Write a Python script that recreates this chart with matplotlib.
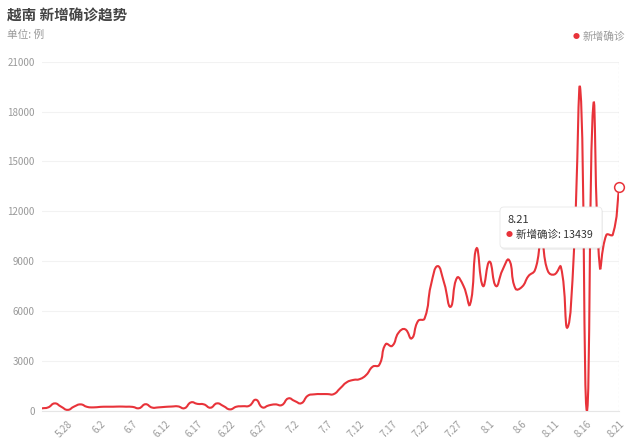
import numpy as np
import pandas as pd
import matplotlib
matplotlib.use('Agg')
import matplotlib.pyplot as plt
from matplotlib.path import Path
from matplotlib.patches import PathPatch, FancyBboxPatch
from matplotlib.transforms import IdentityTransform

plt.rcParams['font.family'] = ['Noto Sans CJK SC', 'DejaVu Sans']

# 5.24 - 8.21
dates = pd.date_range('2021-05-24', '2021-08-21')
date_labels = [f'{d.month}.{d.day}' for d in dates]
new_cases = [140, 200, 440, 240, 50, 250, 380, 230, 200, 230,
             240, 240, 250, 240, 230, 150, 390, 190, 200, 230,
             250, 260, 150, 500, 410, 380, 180, 440, 280, 80,
             240, 270, 300, 660, 200, 320, 380, 340, 740, 580,
             450, 900, 985, 1000, 1000, 1000, 1350, 1710, 1850, 1900,
             2150, 2650, 2750, 4000, 3900, 4700, 4900, 4350, 5400, 5550,
             7600, 8700, 7700, 6250, 8000, 7500, 6400, 9770, 7500, 8970,
             7500, 8460, 9070, 7350, 7450, 8100, 8460, 10100, 8400, 8200,
             8650, 5000, 9500, 19300, 0, 18400, 8650, 10570, 10600, 13439]
y_ticks = list(range(0, 21001, 3000))
label_step = 5
series_name = '新增确诊'
line_color = '#e8333a'

W, H = 641, 442
fig = plt.figure(figsize=(W / 100, H / 100), dpi=100)
ax = fig.add_axes([41.7 / W, 1 - 410.7 / H, (619.3 - 41.7) / W, (410.7 - 61.7) / H])
x = np.arange(len(new_cases))
ax.set_xlim(0, len(x) - 1)
ax.set_ylim(y_ticks[0], y_ticks[-1])


def smooth_path(ax, xs, ys, smooth=0.5):
    # bezier smoothing in screen space, like echarts smooth: true
    pts = ax.transData.transform(np.column_stack([xs, ys]))
    n = len(pts)
    cp_prev, cp_next = [], []
    for i in range(n):
        p = pts[i]
        prev = pts[i - 1] if i > 0 else p
        nxt = pts[i + 1] if i < n - 1 else p
        v = nxt - prev
        d0 = np.hypot(*(p - prev))
        d1 = np.hypot(*(nxt - p))
        r = d1 / (d0 + d1) if d0 + d1 > 0 else 0.5
        cp_next.append(p + v * smooth * r)
        cp_prev.append(p - v * smooth * (1 - r))
    verts = [pts[0]]
    codes = [Path.MOVETO]
    for i in range(1, n):
        verts += [cp_next[i - 1], cp_prev[i], pts[i]]
        codes += [Path.CURVE4] * 3
    return Path(ax.transData.inverted().transform(np.array(verts)), codes)


ax.add_patch(PathPatch(smooth_path(ax, x, new_cases), fill=False,
                       edgecolor=line_color, lw=1.5, zorder=3))

# grid / axes
ax.set_yticks(y_ticks)
ax.grid(axis='y', color='#f2f2f2', lw=0.8)
ax.set_axisbelow(True)
for s in ['top', 'right', 'left']:
    ax.spines[s].set_visible(False)
ax.spines['bottom'].set_color('#e6e6e6')
ax.spines['bottom'].set_linewidth(0.8)

tick_idx = list(range(len(x) - 1, -1, -label_step))[::-1]
ax.set_xticks(tick_idx)
ax.set_xticklabels([date_labels[i] for i in tick_idx], rotation=45,
                   ha='right', va='top', rotation_mode='anchor')
ax.tick_params(axis='x', length=0, pad=6, labelsize=7, labelcolor='#999999')
ax.tick_params(axis='y', length=0, pad=5, labelsize=7, labelcolor='#999999')

# hover marker
last = len(x) - 1
ax.axvline(last, color='#bbbbbb', lw=0.8, ls=(0, (2, 2)), zorder=2)
ax.plot(last, new_cases[last], 'o', ms=7, mfc='white', mec=line_color, mew=1.1,
        zorder=4, clip_on=False)

# titles
fig.text(7 / W, 1 - 16 / H, '越南 新增确诊趋势', fontsize=10.5, weight='bold',
         color='#444444', va='center', ha='left')
fig.text(7 / W, 1 - 35 / H, '单位: 例', fontsize=7.7, color='#999999',
         va='center', ha='left')

# legend
fig.text(576 / W, 1 - 37 / H, '●', fontsize=5, color=line_color, va='center', ha='center')
fig.text(583 / W, 1 - 37 / H, series_name, fontsize=7.7, color='#999999',
         va='center', ha='left')

# tooltip
bx, by, bw, bh = 500, H - 248, 102, 41
shadow = FancyBboxPatch((bx + 1, by - 2), bw, bh, boxstyle='round,pad=0,rounding_size=4',
                        transform=IdentityTransform(), facecolor='#000000', alpha=0.06,
                        edgecolor='none', zorder=9)
box = FancyBboxPatch((bx, by), bw, bh, boxstyle='round,pad=0,rounding_size=4',
                     transform=IdentityTransform(), facecolor='white',
                     edgecolor='#e8e8e8', lw=0.6, zorder=10)
fig.patches.extend([shadow, box])
fig.text(507 / W, 1 - 220 / H, date_labels[last], fontsize=8, color='#333333',
         va='center', ha='left', zorder=11)
fig.text(509 / W, 1 - 235 / H, '●', fontsize=5, color=line_color,
         va='center', ha='center', zorder=11)
fig.text(516 / W, 1 - 235 / H, f'{series_name}: {new_cases[last]}', fontsize=7.6,
         color='#333333', va='center', ha='left', zorder=11)

fig.savefig('out.png', dpi=100)
